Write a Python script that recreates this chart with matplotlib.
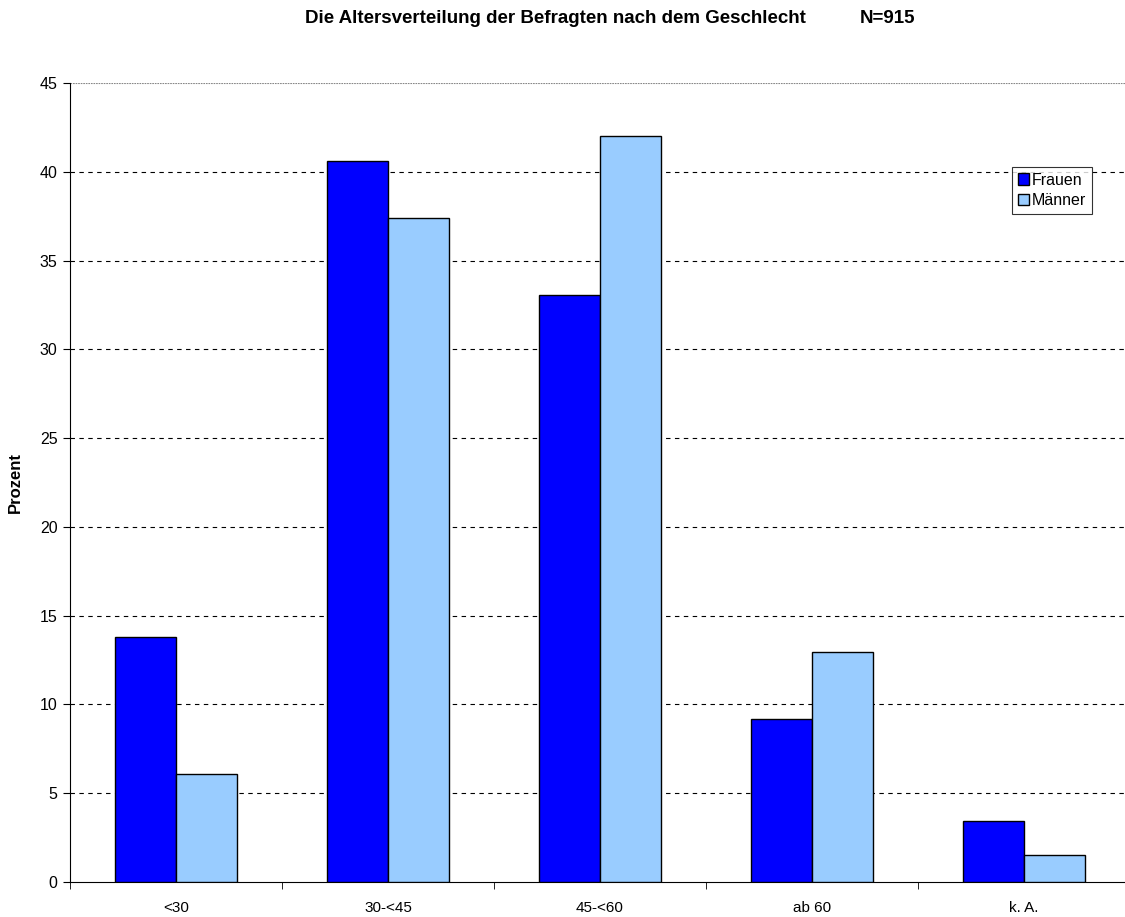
import numpy as np
import matplotlib.pyplot as plt

plt.rcParams['font.family'] = ['Liberation Sans', 'DejaVu Sans']

kategorien = ['<30', '30-<45', '45-<60', 'ab 60', 'k. A.']
frauen = [13.8, 40.6, 33.05, 9.2, 3.45]
maenner = [6.1, 37.4, 42.0, 12.95, 1.5]

fig = plt.figure(figsize=(11.25, 9.17), dpi=100)
ax = fig.add_axes([70/1125, 1 - 882/917, 1060/1125, 799/917])

x = np.arange(len(kategorien))
w = 0.287
ax.bar(x - w/2, frauen, w, color='#0000FF', edgecolor='black', linewidth=1, label='Frauen', zorder=3)
ax.bar(x + w/2, maenner, w, color='#99CCFF', edgecolor='black', linewidth=1, label='Männer', zorder=3)

ax.set_xlim(-0.5, len(kategorien) - 0.5)
ax.set_ylim(0, 45)
ax.set_yticks(range(0, 50, 5))
ax.set_xticks(x)
ax.set_xticklabels(kategorien, fontsize=11)
ax.set_xticks(np.arange(-0.5, len(kategorien), 1), minor=True)
ax.tick_params(axis='x', which='major', length=0, pad=14)
ax.tick_params(axis='x', which='minor', length=5, direction='out')
ax.tick_params(axis='y', labelsize=11.5, length=5, direction='out', pad=4)

for yv in range(5, 50, 5):
    ax.axhline(yv, color='black' if yv < 45 else '#888888', linewidth=0.8,
               linestyle=(0, (4, 4)) if yv < 45 else (0, (1.5, 0.8)), zorder=1)

ax.spines['top'].set_visible(False)
ax.spines['right'].set_visible(False)

ax.set_ylabel('Prozent', fontsize=12, fontweight='bold', labelpad=12)
fig.text(305/1125, 1 - 23/917, 'Die Altersverteilung der Befragten nach dem Geschlecht',
         ha='left', va='baseline', fontsize=13.5, fontweight='bold')
fig.text(860/1125, 1 - 23/917, 'N=915',
         ha='left', va='baseline', fontsize=13.5, fontweight='bold')

leg = ax.legend(loc='upper left', bbox_to_anchor=(1012/1125, 1 - 167/917),
                bbox_transform=fig.transFigure, fontsize=11.5, frameon=True,
                fancybox=False, edgecolor='black', handlelength=0.7, handleheight=0.7,
                handletextpad=0.2, borderpad=0.35, labelspacing=0.35, borderaxespad=0)
leg.get_frame().set_linewidth(0.8)

plt.savefig('out.png')
